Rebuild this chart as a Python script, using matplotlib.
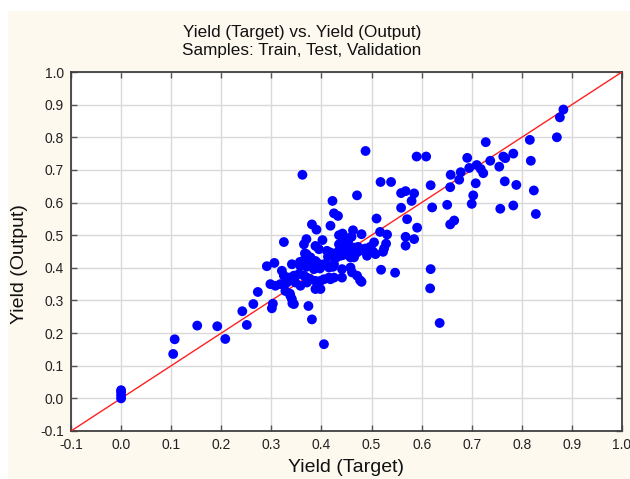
import matplotlib
matplotlib.use("Agg")
import matplotlib.pyplot as plt
from matplotlib.patches import Rectangle

plt.rcParams['font.family'] = ['Liberation Sans', 'DejaVu Sans']

target = [
    0.0, 0.0, 0.0, 0.0,
    0.104, 0.107, 0.152, 0.192, 0.208, 0.242, 0.251, 0.264, 0.273, 0.291, 0.298, 0.301, 0.303,
    0.306, 0.308, 0.318, 0.321, 0.325, 0.325, 0.328, 0.331, 0.335, 0.338, 0.341, 0.341, 0.345, 0.345, 0.348,
    0.337, 0.342,
    0.355, 0.358, 0.358, 0.362, 0.363, 0.365, 0.365, 0.37, 0.37, 0.371, 0.371, 0.374, 0.378, 0.378, 0.378,
    0.381, 0.381, 0.385, 0.388, 0.388, 0.388, 0.388, 0.39, 0.391, 0.395, 0.398, 0.398, 0.367, 0.367, 0.377,
    0.37, 0.39, 0.357,
    0.402, 0.405, 0.405, 0.405, 0.411, 0.415, 0.415, 0.418, 0.418, 0.418, 0.422, 0.425, 0.425, 0.425, 0.43,
    0.433, 0.435, 0.435, 0.438, 0.441, 0.441, 0.442, 0.445, 0.447, 0.41, 0.423, 0.397, 0.413, 0.423, 0.433,
    0.443,
    0.451, 0.453, 0.455, 0.455, 0.457, 0.458, 0.458, 0.46, 0.461, 0.463, 0.465, 0.465, 0.471, 0.471, 0.471,
    0.473, 0.477, 0.48, 0.48, 0.48, 0.485, 0.487, 0.488, 0.491, 0.497,
    0.501, 0.503, 0.505, 0.508, 0.51, 0.517, 0.518, 0.519, 0.523, 0.525, 0.529, 0.531, 0.539, 0.547,
    0.559, 0.559, 0.568, 0.568, 0.568, 0.571, 0.58, 0.585, 0.585, 0.59, 0.591,
    0.609, 0.617, 0.618, 0.618, 0.621, 0.636, 0.651, 0.657, 0.657, 0.658, 0.665, 0.675, 0.678, 0.691, 0.695,
    0.7, 0.703, 0.708, 0.71, 0.718, 0.723, 0.728, 0.737, 0.755, 0.757, 0.763, 0.767, 0.766, 0.783, 0.783,
    0.789, 0.816, 0.818, 0.824, 0.828, 0.87, 0.876, 0.883,
]
output = [
    0.0, 0.01, 0.02, 0.025,
    0.136, 0.181, 0.223, 0.221, 0.182, 0.267, 0.225, 0.289, 0.326, 0.405, 0.35, 0.276, 0.29,
    0.415, 0.345, 0.35, 0.391, 0.376, 0.479, 0.329, 0.355, 0.37, 0.314, 0.304, 0.411, 0.289, 0.376, 0.355,
    0.321, 0.291,
    0.381, 0.405, 0.345, 0.685, 0.421, 0.472, 0.376, 0.488, 0.442, 0.37, 0.355, 0.283, 0.432, 0.365, 0.411,
    0.533, 0.242, 0.396, 0.467, 0.421, 0.36, 0.335, 0.517, 0.416, 0.457, 0.36, 0.335, 0.444, 0.423, 0.423,
    0.403, 0.408, 0.418,
    0.485, 0.411, 0.365, 0.166, 0.452, 0.401, 0.37, 0.447, 0.529, 0.365, 0.605, 0.567, 0.411, 0.37, 0.432,
    0.559, 0.472, 0.5, 0.437, 0.396, 0.37, 0.505, 0.462, 0.485, 0.408, 0.403, 0.398, 0.434, 0.439, 0.449,
    0.439,
    0.442, 0.48, 0.491, 0.452, 0.464, 0.432, 0.401, 0.495, 0.386, 0.515, 0.462, 0.432, 0.622, 0.447, 0.376,
    0.464, 0.362, 0.454, 0.357, 0.503, 0.452, 0.459, 0.758, 0.437, 0.464,
    0.452, 0.449, 0.478, 0.442, 0.551, 0.51, 0.663, 0.394, 0.449, 0.459, 0.474, 0.502, 0.663, 0.385,
    0.629, 0.584, 0.635, 0.495, 0.468, 0.549, 0.605, 0.628, 0.488, 0.741, 0.523,
    0.741, 0.337, 0.653, 0.396, 0.585, 0.231, 0.593, 0.647, 0.533, 0.685, 0.545, 0.67, 0.693, 0.737, 0.706,
    0.596, 0.622, 0.659, 0.715, 0.703, 0.69, 0.785, 0.728, 0.71, 0.581, 0.741, 0.736, 0.665, 0.75, 0.591,
    0.654, 0.792, 0.728, 0.637, 0.565, 0.8, 0.861, 0.885,
]
ticks = [-0.1, 0.0, 0.1, 0.2, 0.3, 0.4, 0.5, 0.6, 0.7, 0.8, 0.9, 1.0]
tick_labels = ["-0.1", "0.0", "0.1", "0.2", "0.3", "0.4", "0.5", "0.6", "0.7", "0.8", "0.9", "1.0"]

W, H = 630, 479
fig = plt.figure(figsize=(W / 100, H / 100), dpi=100, facecolor='white')
fig.patches.append(Rectangle((8 / W, 0), 1 - 8 / W, (H - 11) / H, transform=fig.transFigure,
                             facecolor='#FDF9EF', edgecolor='none', zorder=-10))

ax = fig.add_axes([71 / W, (H - 431) / H, (622 - 71) / W, (431 - 72) / H])
ax.set_facecolor('white')
ax.set_xlim(-0.1, 1.0)
ax.set_ylim(-0.1, 1.0)
ax.set_xticks(ticks)
ax.set_yticks(ticks)
ax.set_xticklabels(tick_labels, fontsize=10)
ax.set_yticklabels(tick_labels, fontsize=10)
ax.grid(True, color='#D9D9D9', linewidth=1.0, zorder=0)
ax.set_axisbelow(True)
ax.tick_params(direction='in', length=4, width=1, color='#555555', top=True, right=True,
               labelcolor='#222222', pad=5)
for s in ax.spines.values():
    s.set_color('#404040')
    s.set_linewidth(1.3)

ax.plot([-0.1, 1.0], [-0.1, 1.0], color='#FF2020', linewidth=1.0, zorder=3)
ax.scatter(target, output, s=50, color='#0000FF', edgecolors='none', zorder=4, clip_on=False)

fig.text(0.5 * (71 + 622) / W, 1 - 468 / H, "Yield (Target)", ha='center', va='center',
         fontsize=14, color='#111111')
fig.text(20 / W, 1 - 264 / H, "Yield (Output)", ha='center', va='center', rotation=90,
         fontsize=14, color='#111111')
fig.text(302 / W, 1 - 32 / H, "Yield (Target) vs. Yield (Output)", ha='center', va='center',
         fontsize=12.3, color='#111111')
fig.text(302 / W, 1 - 51 / H, "Samples: Train, Test, Validation", ha='center', va='center',
         fontsize=12.3, color='#111111')

fig.savefig("out.png", dpi=100, facecolor=fig.get_facecolor())
